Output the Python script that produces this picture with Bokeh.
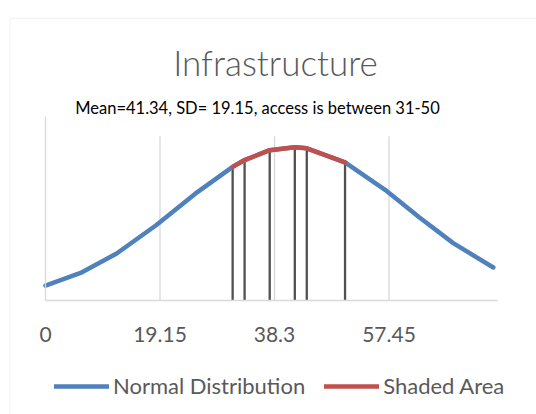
from bokeh.plotting import figure
from bokeh.models import (Range1d, FixedTicker, Label, Legend, LegendItem,
                          BoxAnnotation, LinearAxis)
from bokeh.embed import file_html
from bokeh.resources import INLINE

# Scores and their normal density (mean 41.34, SD 19.15)
score = [0, 6.1, 11.9, 18.5, 25.0, 31.3, 33.3, 37.5, 41.7, 43.7, 50.1,
         56.8, 62.5, 68.2, 74.9]
density = [0.00203, 0.00383, 0.00639, 0.01023, 0.01448, 0.01816, 0.01908,
           0.02042, 0.02083, 0.02068, 0.01876, 0.01504, 0.01131, 0.00779,
           0.00449]

# Part of the curve where access lies between 31 and 50
shaded_score = [31.3, 33.3, 37.5, 41.7, 43.7, 50.1]
shaded_density = [0.01816, 0.01908, 0.02042, 0.02083, 0.02068, 0.01876]

tick_values = [0, 19.15, 38.3, 57.45]
tick_labels = ["0", "19.15", "38.3", "57.45"]

W, H = 536, 414
FONT = "Lato"
GREY = "#595959"
GRID = "#d9d9d9"
BLUE = "#4f81bd"
RED = "#c0504d"

# Plot area inside the canvas (pixels) and its data extent
AREA_LEFT, AREA_RIGHT, AREA_TOP, AREA_BOTTOM = 45, 497, 116, 300
X_MAX, Y_MAX = 75.6, 0.025
kx = (AREA_RIGHT - AREA_LEFT) / X_MAX
ky = (AREA_BOTTOM - AREA_TOP) / Y_MAX


def cx(px):
    """canvas pixel column -> x data"""
    return (px - AREA_LEFT) / kx


def cy(py):
    """canvas pixel row -> y data"""
    return (AREA_BOTTOM - py) / ky


p = figure(width=W, height=H, output_backend="svg", toolbar_location=None,
           x_range=Range1d(cx(0), cx(W)), y_range=Range1d(cy(H), cy(0)),
           x_axis_location=None, y_axis_location=None,
           min_border=0)
p.outline_line_color = None
p.background_fill_color = "white"
p.border_fill_color = "white"
p.grid.visible = False

# x axis pinned at y = 0, light rule with fixed tick labels
xa = LinearAxis(fixed_location=0, bounds=(0, X_MAX),
                ticker=FixedTicker(ticks=tick_values, minor_ticks=[]))
xa.major_label_overrides = {v: t for v, t in zip(tick_values, tick_labels)}
xa.axis_line_color = GRID
xa.axis_line_width = 1.3
xa.major_tick_line_color = None
xa.minor_tick_line_color = None
xa.major_label_standoff = 20
xa.major_label_text_font = FONT
xa.major_label_text_font_size = "21px"
xa.major_label_text_color = GREY
p.add_layout(xa, "below")

# y axis pinned at x = 0: only its line is shown
ya = LinearAxis(fixed_location=0, bounds=(0, Y_MAX),
                ticker=FixedTicker(ticks=[], minor_ticks=[]))
ya.axis_line_color = GRID
ya.axis_line_width = 1.3
ya.major_tick_line_color = None
ya.minor_tick_line_color = None
p.add_layout(ya, "left")

# vertical gridlines
p.segment(x0=tick_values[1:], y0=0, x1=tick_values[1:], y1=0.0223,
          line_color=GRID, line_width=1.3)

# drop lines under the shaded part of the curve
p.segment(x0=shaded_score, y0=0, x1=shaded_score, y1=shaded_density,
          line_color="#505050", line_width=2.3)

normal = p.line(score, density, line_color=BLUE, line_width=4.5,
                line_join="round", line_cap="round")
shaded = p.line(shaded_score, shaded_density, line_color=RED, line_width=4.5,
                line_join="round", line_cap="round")

# chart border (runs off the right and bottom edges)
p.add_layout(BoxAnnotation(left=cx(9.5), right=cx(W + 20), top=cy(18),
                           bottom=cy(H + 20), fill_alpha=0, line_color=GRID,
                           line_width=1.4))

# titles
p.add_layout(Label(x=cx(275), y=cy(61), text="Infrastructure",
                   text_align="center", text_baseline="alphabetic",
                   text_font="Lato Light, Lato", text_font_size="35px",
                   text_color=GREY))
p.add_layout(Label(x=cx(257), y=cy(107),
                   text="Mean=41.34, SD= 19.15, access is between 31-50",
                   text_align="center", text_baseline="alphabetic",
                   text_font=FONT, text_font_size="16.5px", text_color="black"))

legend = Legend(items=[LegendItem(label="Normal Distribution", renderers=[normal]),
                       LegendItem(label="Shaded Area", renderers=[shaded])],
                orientation="horizontal", location=(54, 15),
                glyph_width=55, glyph_height=20, label_height=20,
                label_standoff=4, spacing=19, padding=0, margin=0,
                label_text_font=FONT, label_text_font_size="22px",
                label_text_color=GREY, border_line_alpha=0,
                background_fill_alpha=0)
p.add_layout(legend)

open("out.html", "w").write(file_html(p, INLINE))
